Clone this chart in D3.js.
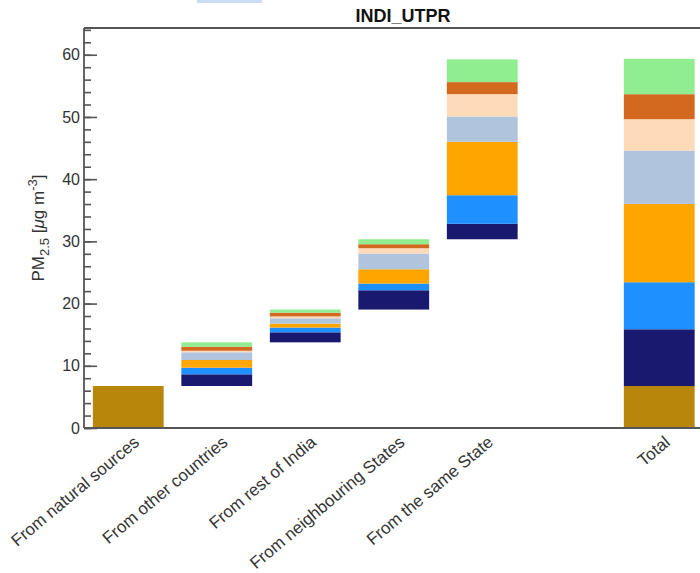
<!DOCTYPE html>
<html>
<head>
<meta charset="utf-8">
<script src="https://cdn.jsdelivr.net/npm/d3@7"></script>
<style>
  body { margin: 0; background: #fff; }
  text { font-family: "Liberation Sans", Arial, sans-serif; }
</style>
</head>
<body>
<script>
const categories = ['From natural sources', 'From other countries', 'From rest of India',
  'From neighbouring States', 'From the same State', '', 'Total']

// sector colours, bottom to top of each stacked bar
const sectorColors = ['#191970', '#1e90ff', '#ffa500', '#b0c4de', '#ffdab9', '#d2691e', '#90ee90']
const naturalColor = '#b8860b'

const natural = 6.75
// contributions per sector (bottom -> top), in ug m-3
const otherCountries = [1.88, 1.06, 1.24, 1.24, 0.25, 0.65, 0.70]
const restOfIndia = [1.61, 0.76, 0.64, 0.85, 0.31, 0.60, 0.50]
const neighbouringStates = [3.10, 1.08, 2.30, 2.53, 0.85, 0.64, 0.80]
const sameState = [2.48, 4.60, 8.59, 4.07, 3.59, 1.93, 3.65]
const totalSectors = [9.12, 7.56, 12.59, 8.57, 5.05, 4.02, 5.68]

const yTicks = [0, 10, 20, 30, 40, 50, 60]

function main ({ w, h }) {
  const svg = d3.select('body')
    .append('svg')
    .attr('width', w)
    .attr('height', h)

  const x = d3.scaleBand()
    .domain(d3.range(categories.length))
    .range([84, 703.5])
    .paddingInner(0.2)
    .paddingOuter(0.1)

  const y = d3.scaleLinear()
    .domain([0, 64.3])
    .range([428, 28])

  // cut-off legend swatch at the very top
  svg.append('rect')
    .attr('x', 197).attr('y', -6)
    .attr('width', 65).attr('height', 9)
    .attr('fill', '#c9dcf2')

  svg.append('text')
    .attr('x', 403).attr('y', 22)
    .attr('text-anchor', 'middle')
    .attr('font-size', 18)
    .attr('font-weight', 'bold')
    .attr('fill', '#111')
    .text('INDI_UTPR')

  // build segments
  const segs = []
  segs.push({ i: 0, y0: 0, y1: natural, color: naturalColor })
  let base = natural
  ;[otherCountries, restOfIndia, neighbouringStates, sameState].forEach((vals, k) => {
    vals.forEach((v, s) => {
      segs.push({ i: k + 1, y0: base, y1: base + v, color: sectorColors[s] })
      base += v
    })
  })
  segs.push({ i: 6, y0: 0, y1: natural, color: naturalColor })
  let tb = natural
  totalSectors.forEach((v, s) => {
    segs.push({ i: 6, y0: tb, y1: tb + v, color: sectorColors[s] })
    tb += v
  })

  svg.append('g')
    .selectAll('rect')
    .data(segs)
    .join('rect')
    .attr('x', d => x(d.i))
    .attr('width', x.bandwidth())
    .attr('y', d => y(d.y1))
    .attr('height', d => y(d.y0) - y(d.y1))
    .attr('fill', d => d.color)

  // frame
  const frame = svg.append('g')
    .attr('stroke', '#555')
    .attr('stroke-width', 1.8)
    .attr('fill', 'none')
  frame.append('line').attr('x1', 84).attr('x2', 700).attr('y1', 428).attr('y2', 428)
  frame.append('line').attr('x1', 84).attr('x2', 700).attr('y1', 28).attr('y2', 28)
  frame.append('line').attr('x1', 84).attr('x2', 84).attr('y1', 28).attr('y2', 428)

  // minor ticks
  svg.append('g')
    .attr('transform', 'translate(84,0)')
    .call(d3.axisLeft(y).tickValues(d3.range(0, 65, 2)).tickSize(-7).tickFormat(''))
    .call(g => g.select('.domain').remove())
    .call(g => g.selectAll('line').attr('stroke', '#555').attr('stroke-width', 1.6))

  // major ticks
  svg.append('g')
    .attr('transform', 'translate(84,0)')
    .call(d3.axisLeft(y).tickValues(yTicks).tickSize(-13).tickPadding(4))
    .call(g => g.select('.domain').remove())
    .call(g => g.selectAll('line').attr('stroke', '#555').attr('stroke-width', 1.6))
    .call(g => g.selectAll('text')
      .attr('font-size', 16)
      .attr('fill', '#333')
      .attr('font-family', '"Liberation Sans", Arial, sans-serif'))

  // y label
  const yl = svg.append('text')
    .attr('transform', 'translate(44,228) rotate(-90)')
    .attr('text-anchor', 'middle')
    .attr('font-size', 17)
    .attr('fill', '#333')
  yl.append('tspan').text('PM')
  yl.append('tspan').attr('font-size', 13).attr('dy', 5).text('2.5')
  yl.append('tspan').attr('dy', -5).text(' [')
  yl.append('tspan').attr('font-style', 'italic').text('μ')
  yl.append('tspan').text('g m')
  yl.append('tspan').attr('font-size', 13).attr('dy', -7).text('-3')
  yl.append('tspan').attr('dy', 7).text(']')

  // x labels
  svg.append('g')
    .selectAll('text')
    .data(categories.map((c, i) => ({ c, i })).filter(d => d.c))
    .join('text')
    .attr('transform', d => `translate(${x(d.i) + x.bandwidth() / 2 + 12},444) rotate(-40)`)
    .attr('text-anchor', 'end')
    .attr('font-size', 17)
    .attr('fill', '#333')
    .text(d => d.c)
}

main({ w: 700, h: 573 })
</script>
</body>
</html>
